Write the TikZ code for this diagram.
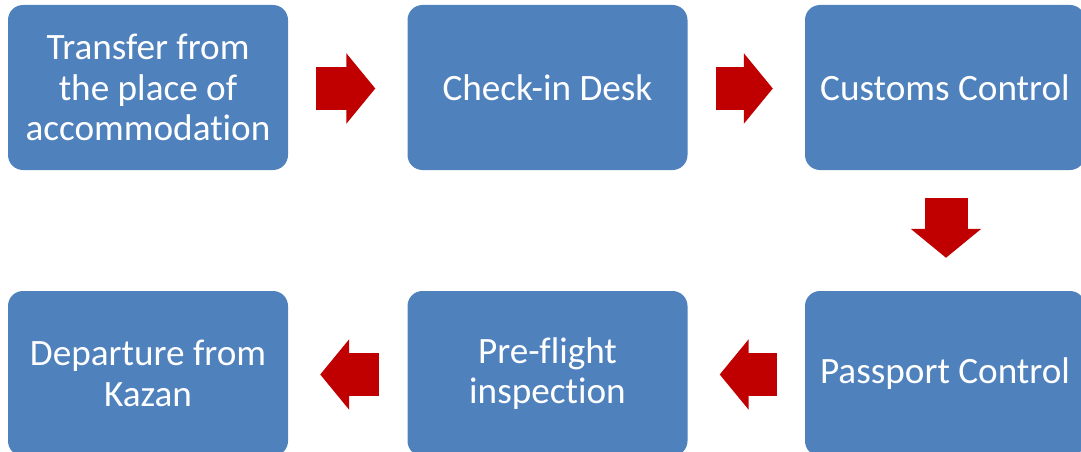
\documentclass[tikz,border=0pt]{standalone}
\usepackage{fontspec}
\setmainfont{Carlito}[Ligatures=NoCommon]
\usetikzlibrary{arrows.meta,calc}

\definecolor{stepblue}{HTML}{4F81BD}
\definecolor{flowred}{HTML}{C00000}

\tikzset{
  stepbox/.style={fill=stepblue,rounded corners=15pt,minimum width=280pt,
    minimum height=165pt,align=center,text=white,
    font=\fontsize{37.2pt}{40.5pt}\selectfont},
  flow/.style={draw=flowred,line width=43pt,
    -{Triangle[length=29pt,width=69pt]}},
}

\begin{document}
\begin{tikzpicture}[x=1pt,y=-1pt]
  \useasboundingbox (0,0) rectangle (1081,452);

  % top row
  \node[stepbox] (transfer) at (148,87.5) {Transfer from\\the place of\\accommodation};
  \node[stepbox] (checkin) at (547.5,87.5) {Check-in Desk};
  \node[stepbox] (customs) at (945,87.5) {Customs Control};

  % bottom row
  \node[stepbox] (passport) at (945,373.5) {Passport Control};
  \node[stepbox] (preflight) at (547.5,373.5) {Pre-flight\\inspection};
  \node[stepbox] (departure) at (148,373.5) {Departure from\\Kazan};

  % arrows
  \draw[flow] ($(transfer.east)+(28,1)$) -- ($(checkin.west)-(32,-1)$);
  \draw[flow] ($(checkin.east)+(28,1)$) -- ($(customs.west)-(32,-1)$);
  \draw[flow] ($(customs.south)+(1,28)$) -- ($(passport.north)+(1,-33)$);
  \draw[flow] ($(passport.west)-(28,-1)$) -- ($(preflight.east)+(32,1)$);
  \draw[flow] ($(preflight.west)-(28,-1)$) -- ($(departure.east)+(32,1)$);

\end{tikzpicture}
\end{document}
